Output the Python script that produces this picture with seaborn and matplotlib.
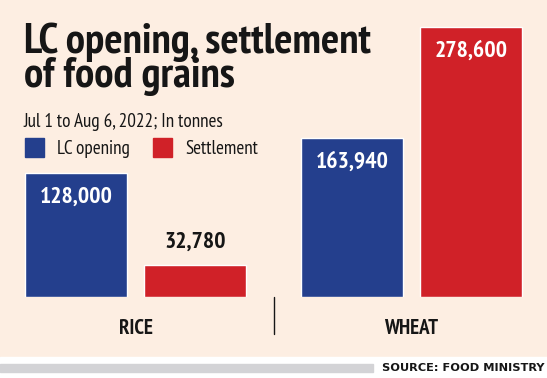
import matplotlib
matplotlib.use("Agg")
import matplotlib.pyplot as plt
import matplotlib.transforms as mtransforms
from matplotlib.patches import Rectangle
from matplotlib.lines import Line2D
import seaborn as sns
import pandas as pd

# ---- data ----
categories = ["RICE", "WHEAT"]
series = ["LC opening", "Settlement"]
lc_opening = [128000, 163940]
settlement = [32780, 278600]
title = "LC opening, settlement\nof food grains"
subtitle = "Jul 1 to Aug 6, 2022; In tonnes"
source = "SOURCE: FOOD MINISTRY"

BG = "#FDEEE2"
BLUE = "#243F8D"
RED = "#D02128"
DARK = "#161616"

df = pd.DataFrame({
    "grain": categories * 2,
    "type": [series[0]] * 2 + [series[1]] * 2,
    "tonnes": lc_opening + settlement,
})

sns.set_theme(style="white")
COND = ["PT Sans Narrow", "Fira Sans Condensed", "Roboto Condensed", "DejaVu Sans"]
plt.rcParams["font.family"] = COND

W, H = 547, 378
fig = plt.figure(figsize=(W / 100, H / 100), dpi=100)
fig.patch.set_facecolor(BG)

base = 81  # baseline, px from bottom
ax = fig.add_axes([0, base / H, 1, (H - base) / H])
ax.set_facecolor("none")
sns.barplot(data=df, x="grain", y="tonnes", hue="type", order=categories,
            hue_order=series, palette=[BLUE, RED], width=0.862, gap=0.143,
            saturation=1, legend=False, ax=ax, errorbar=None)
ax.set_xlim(-0.491, 1.491)
ax.set_ylim(0, 306500)
for s in ax.spines.values():
    s.set_visible(False)
ax.set_xlabel("")
ax.set_ylabel("")
ax.set_yticks([])
ax.tick_params(axis="x", length=0, pad=15.5)
for lbl in ax.get_xticklabels():
    lbl.set_fontsize(15)
    lbl.set_fontweight("bold")
    lbl.set_color(DARK)
    lbl.set_family(COND)

# value labels
for cont in ax.containers:
    for p in cont:
        h = p.get_height()
        cx = p.get_x() + p.get_width() / 2
        if h > 60000:
            ax.annotate(f"{int(h):,}", (cx, h), xytext=(0, -17.5),
                        textcoords="offset points", ha="center", va="center",
                        color="white", fontsize=17, fontweight="bold", family=COND)
        else:
            ax.annotate(f"{int(h):,}", (cx, h), xytext=(0, 16.5),
                        textcoords="offset points", ha="center", va="center",
                        color=DARK, fontsize=17, fontweight="bold", family=COND)

# divider between groups
trans = mtransforms.blended_transform_factory(ax.transData, fig.transFigure)
ax.add_line(Line2D([0.5, 0.5], [base / H, 44 / H], transform=trans,
                   color=DARK, lw=1, clip_on=False))

# title / subtitle (va="baseline" aligns the last line's baseline)
fig.text(24 / W, 1 - 87 / H, title, ha="left", va="baseline", fontsize=31,
         fontweight="bold", color=DARK, family=COND, linespacing=0.83)
fig.text(24 / W, 1 - 127 / H, subtitle, ha="left", va="baseline", fontsize=13.8,
         color=DARK, family=COND)

# legend
fig.add_artist(Rectangle((25 / W, 1 - 157 / H), 19 / W, 19 / H,
                         transform=fig.transFigure, color=BLUE))
fig.text(57 / W, 1 - 154 / H, series[0], ha="left", va="baseline", fontsize=13.8,
         color=DARK, family=COND)
fig.add_artist(Rectangle((153 / W, 1 - 157 / H), 19 / W, 19 / H,
                         transform=fig.transFigure, color=RED))
fig.text(185 / W, 1 - 154 / H, series[1], ha="left", va="baseline", fontsize=13.8,
         color=DARK, family=COND)

# footer
fig.add_artist(Rectangle((0, 0), 1, 21 / H, transform=fig.transFigure,
                         color="white", zorder=0))
fig.add_artist(Rectangle((0, 6 / H), 373 / W, 8 / H, transform=fig.transFigure,
                         color="#D3D3D6", zorder=1))
fig.text(545 / W, 10 / H, source, ha="right", va="center", fontsize=8.2,
         fontweight="bold", color=DARK, family="DejaVu Sans")

fig.savefig("out.png", dpi=100, facecolor=BG)
